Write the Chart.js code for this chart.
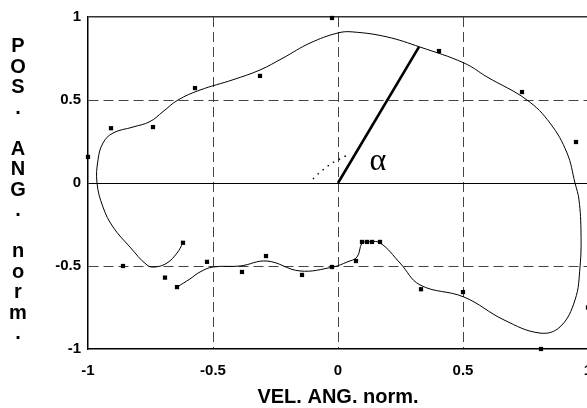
<!DOCTYPE html>
<html><head><meta charset="utf-8">
<script src="https://cdn.jsdelivr.net/npm/chart.js@4.4.1/dist/chart.umd.min.js"></script>
<style>html,body{margin:0;padding:0;overflow:hidden;background:#fff;width:587px;height:408px}
canvas{display:block}</style></head>
<body><canvas id="c" width="600" height="408"></canvas>
<script>
// ---- data ----
const xTickLabels = ['-1', '-0.5', '0', '0.5', '1'];
const yTickLabels = ['-1', '-0.5', '0', '0.5', '1'];
const xTitle = 'VEL. ANG. norm.';
const yTitle = 'POS. ANG. norm.';
const angleLabel = '\u03B1';

// measured samples (small squares)
const pointsX = [-1.0, -0.908, -0.74, -0.572, -0.312, -0.024, 0.404, 0.736, 0.952, 1.0,
  0.812, 0.5, 0.332, 0.096, 0.116, 0.136, 0.168, 0.072, -0.024, -0.144, -0.288, -0.384,
  -0.524, -0.62, -0.644, -0.692, -0.86];
const pointsY = [0.157, 0.33, 0.337, 0.572, 0.645, 0.994, 0.795, 0.548, 0.247, -0.75,
  -1.0, -0.657, -0.64, -0.355, -0.355, -0.355, -0.355, -0.47, -0.506, -0.554, -0.44, -0.536,
  -0.475, -0.36, -0.627, -0.57, -0.5];

// fitted trajectory
const curveX = [-0.644, -0.592, -0.552, -0.5, -0.392, -0.284, -0.152, -0.02, 0.036, 0.076,
  0.096, 0.116, 0.168, 0.248, 0.328, 0.504, 0.664, 0.808, 0.888, 0.948, 0.968, 0.972, 0.964,
  0.948, 0.916, 0.848, 0.756, 0.596, 0.504, 0.328, 0.196, 0.06, 0.0, -0.112, -0.22, -0.312,
  -0.42, -0.552, -0.64, -0.7, -0.752, -0.82, -0.9, -0.94, -0.96, -0.964, -0.94, -0.9,
  -0.832, -0.764, -0.732, -0.684, -0.644, -0.62];
const curveY = [-0.627, -0.578, -0.536, -0.506, -0.5, -0.47, -0.53, -0.506, -0.476, -0.446,
  -0.361, -0.355, -0.361, -0.482, -0.614, -0.687, -0.825, -0.904, -0.867, -0.705, -0.506,
  -0.301, -0.102, 0.0, 0.181, 0.361, 0.5, 0.639, 0.723, 0.819, 0.88, 0.91, 0.904, 0.843,
  0.753, 0.681, 0.622, 0.56, 0.5, 0.43, 0.37, 0.337, 0.301, 0.241, 0.139, 0.0, -0.145,
  -0.265, -0.386, -0.494, -0.506, -0.482, -0.422, -0.361];

// radius vector and angle arc
const radiusX = [0, 0.324];
const radiusY = [0, 0.82];
const arcX = [-0.1, -0.076, -0.056, -0.024, 0.0, 0.02, 0.048];
const arcY = [0.024, 0.06, 0.084, 0.12, 0.139, 0.157, 0.169];
const alphaAt = [0.16, 0.128];

const zip = (xs, ys) => xs.map((x, i) => ({x, y: ys[i]}));

const FONT = '"Liberation Sans", Arial, sans-serif';

const extras = {
  id: 'extras',
  afterDraw(chart) {
    const ctx = chart.ctx;
    ctx.save();
    // stacked vertical y title
    ctx.fillStyle = '#000';
    ctx.font = 'bold 20px ' + FONT;
    ctx.textAlign = 'center';
    ctx.textBaseline = 'alphabetic';
    const chars = Array.from(yTitle);
    chars.forEach((ch, i) => {
      if (ch !== ' ') ctx.fillText(ch, 18, 52 + i * 20.5);
    });
    // alpha label
    const xs = chart.scales.x, ys = chart.scales.y;
    ctx.font = '32px "Liberation Serif", "Times New Roman", serif';
    ctx.textBaseline = 'middle';
    ctx.fillText(angleLabel, xs.getPixelForValue(alphaAt[0]), ys.getPixelForValue(alphaAt[1]));
    ctx.restore();
  }
};

new Chart(document.getElementById('c'), {
  type: 'scatter',
  data: {
    datasets: [
      {
        data: zip(pointsX, pointsY), pointStyle: 'rect', pointRadius: 3,
        backgroundColor: '#000', borderWidth: 0, showLine: false, clip: false, order: 0
      },
      {
        data: zip(curveX, curveY), showLine: true, pointRadius: 0, borderColor: '#000',
        borderWidth: 1, tension: 0.4, fill: false, order: 1
      },
      {
        data: zip(radiusX, radiusY), showLine: true, pointRadius: 0, borderColor: '#000',
        borderWidth: 2.6, tension: 0, order: 2
      },
      {
        data: zip(arcX, arcY), showLine: true, pointRadius: 0, borderColor: '#000',
        borderWidth: 1.5, borderDash: [1.5, 5], tension: 0.3, order: 3
      }
    ]
  },
  options: {
    responsive: false,
    animation: false,
    devicePixelRatio: 1,
    layout: {padding: {left: 0, right: 12, top: 17, bottom: 0}},
    plugins: {legend: {display: false}, tooltip: {enabled: false}},
    scales: {
      x: {
        type: 'linear', min: -1, max: 1,
        afterFit: s => { s.height = 59; s.paddingRight = 0; s.paddingLeft = 0; },
        ticks: {
          stepSize: 0.5, color: '#000', padding: 13,
          font: {family: FONT, size: 15, weight: 'bold'},
          callback: (v, i) => xTickLabels[i]
        },
        grid: {
          drawTicks: false, lineWidth: 1,
          color: c => (c.tick && c.tick.value > -1 && c.tick.value < 1) ? '#444' : 'rgba(0,0,0,0)'
        },
        border: {display: true, color: '#000', width: 1.5, dash: [10, 5]},
        title: {
          display: true, text: xTitle, color: '#000',
          font: {family: FONT, size: 20, weight: 'bold', lineHeight: 1.1},
          padding: {top: 0, bottom: 0}
        }
      },
      y: {
        type: 'linear', min: -1, max: 1,
        afterFit: s => { s.width = 88; },
        ticks: {
          stepSize: 0.5, color: '#000', padding: 7,
          font: {family: FONT, size: 15, weight: 'bold'},
          callback: (v, i) => yTickLabels[i]
        },
        grid: {
          drawTicks: false,
          lineWidth: c => (c.tick && c.tick.value === 1) ? 1.5 : 1,
          color: c => {
            if (!c.tick) return 'rgba(0,0,0,0)';
            const v = c.tick.value;
            if (v === 0) return '#000';
            if (v === 1) return '#333';
            if (v === -1) return 'rgba(0,0,0,0)';
            return '#444';
          }
        },
        border: {
          display: true, color: '#000', width: 1.5,
          dash: c => (c.tick && (c.tick.value === 0 || c.tick.value === 1)) ? [] : [10, 5]
        }
      }
    }
  },
  plugins: [extras]
});
</script>
</body></html>
